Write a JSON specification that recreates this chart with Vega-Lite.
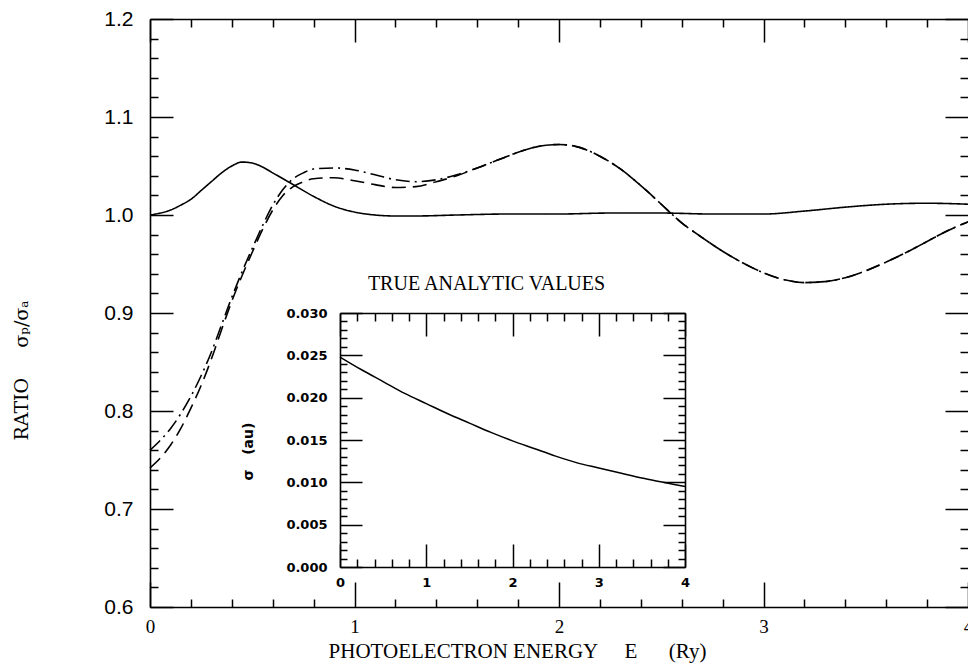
{
  "$schema": "https://vega.github.io/schema/vega-lite/v6.json",
  "width": 818,
  "height": 588,
  "autosize": "none",
  "padding": {"left": 150, "top": 19, "right": 0, "bottom": 59},
  "background": "white",
  "config": {
    "view": {"stroke": null},
    "axis": {"grid": false, "domainColor": "black", "tickColor": "black", "domainWidth": 1.6, "tickWidth": 1.5, "labelColor": "black", "titleColor": "black", "labelFlush": false, "labelOverlap": false, "labelBound": false}
  },
  "datasets": {
    "main": [
      {"x": 0, "y": 1.000, "s": "solid"}, {"x": 0.05, "y": 1.002, "s": "solid"}, {"x": 0.1, "y": 1.005, "s": "solid"}, {"x": 0.15, "y": 1.010, "s": "solid"}, {"x": 0.2, "y": 1.016, "s": "solid"}, {"x": 0.25, "y": 1.025, "s": "solid"}, {"x": 0.3, "y": 1.034, "s": "solid"}, {"x": 0.35, "y": 1.043, "s": "solid"}, {"x": 0.4, "y": 1.050, "s": "solid"}, {"x": 0.45, "y": 1.054, "s": "solid"}, {"x": 0.5, "y": 1.053, "s": "solid"}, {"x": 0.55, "y": 1.049, "s": "solid"}, {"x": 0.6, "y": 1.043, "s": "solid"}, {"x": 0.7, "y": 1.031, "s": "solid"}, {"x": 0.8, "y": 1.019, "s": "solid"}, {"x": 0.9, "y": 1.009, "s": "solid"}, {"x": 1.0, "y": 1.003, "s": "solid"}, {"x": 1.1, "y": 1.000, "s": "solid"}, {"x": 1.2, "y": 0.999, "s": "solid"}, {"x": 1.3, "y": 0.999, "s": "solid"}, {"x": 1.5, "y": 1.000, "s": "solid"}, {"x": 1.75, "y": 1.001, "s": "solid"}, {"x": 2.0, "y": 1.001, "s": "solid"}, {"x": 2.25, "y": 1.002, "s": "solid"}, {"x": 2.5, "y": 1.002, "s": "solid"}, {"x": 2.75, "y": 1.001, "s": "solid"}, {"x": 3.0, "y": 1.001, "s": "solid"}, {"x": 3.2, "y": 1.004, "s": "solid"}, {"x": 3.4, "y": 1.008, "s": "solid"}, {"x": 3.6, "y": 1.011, "s": "solid"}, {"x": 3.8, "y": 1.012, "s": "solid"}, {"x": 4.0, "y": 1.011, "s": "solid"},
      {"x": 0, "y": 0.742, "s": "dash"}, {"x": 0.05, "y": 0.752, "s": "dash"}, {"x": 0.1, "y": 0.765, "s": "dash"}, {"x": 0.15, "y": 0.782, "s": "dash"}, {"x": 0.2, "y": 0.803, "s": "dash"}, {"x": 0.25, "y": 0.826, "s": "dash"}, {"x": 0.3, "y": 0.853, "s": "dash"}, {"x": 0.35, "y": 0.883, "s": "dash"}, {"x": 0.4, "y": 0.912, "s": "dash"}, {"x": 0.45, "y": 0.938, "s": "dash"}, {"x": 0.5, "y": 0.962, "s": "dash"}, {"x": 0.55, "y": 0.985, "s": "dash"}, {"x": 0.6, "y": 1.005, "s": "dash"}, {"x": 0.65, "y": 1.020, "s": "dash"}, {"x": 0.7, "y": 1.029, "s": "dash"}, {"x": 0.75, "y": 1.034, "s": "dash"}, {"x": 0.8, "y": 1.037, "s": "dash"}, {"x": 0.9, "y": 1.038, "s": "dash"}, {"x": 1.0, "y": 1.035, "s": "dash"}, {"x": 1.1, "y": 1.031, "s": "dash"}, {"x": 1.2, "y": 1.028, "s": "dash"}, {"x": 1.3, "y": 1.029, "s": "dash"}, {"x": 1.4, "y": 1.034, "s": "dash"}, {"x": 1.5, "y": 1.040, "s": "dash"}, {"x": 1.6, "y": 1.048, "s": "dash"}, {"x": 1.7, "y": 1.056, "s": "dash"}, {"x": 1.8, "y": 1.064, "s": "dash"}, {"x": 1.9, "y": 1.070, "s": "dash"}, {"x": 2.0, "y": 1.072, "s": "dash"}, {"x": 2.1, "y": 1.069, "s": "dash"}, {"x": 2.2, "y": 1.060, "s": "dash"}, {"x": 2.3, "y": 1.047, "s": "dash"}, {"x": 2.4, "y": 1.030, "s": "dash"}, {"x": 2.5, "y": 1.011, "s": "dash"}, {"x": 2.6, "y": 0.992, "s": "dash"}, {"x": 2.7, "y": 0.977, "s": "dash"}, {"x": 2.8, "y": 0.963, "s": "dash"}, {"x": 2.9, "y": 0.951, "s": "dash"}, {"x": 3.0, "y": 0.941, "s": "dash"}, {"x": 3.1, "y": 0.934, "s": "dash"}, {"x": 3.2, "y": 0.931, "s": "dash"}, {"x": 3.3, "y": 0.932, "s": "dash"}, {"x": 3.4, "y": 0.936, "s": "dash"}, {"x": 3.5, "y": 0.943, "s": "dash"}, {"x": 3.6, "y": 0.952, "s": "dash"}, {"x": 3.7, "y": 0.962, "s": "dash"}, {"x": 3.8, "y": 0.973, "s": "dash"}, {"x": 3.9, "y": 0.984, "s": "dash"}, {"x": 4.0, "y": 0.993, "s": "dash"},
      {"x": 0, "y": 0.760, "s": "dashdot"}, {"x": 0.05, "y": 0.770, "s": "dashdot"}, {"x": 0.1, "y": 0.782, "s": "dashdot"}, {"x": 0.15, "y": 0.797, "s": "dashdot"}, {"x": 0.2, "y": 0.815, "s": "dashdot"}, {"x": 0.25, "y": 0.836, "s": "dashdot"}, {"x": 0.3, "y": 0.860, "s": "dashdot"}, {"x": 0.35, "y": 0.888, "s": "dashdot"}, {"x": 0.4, "y": 0.916, "s": "dashdot"}, {"x": 0.45, "y": 0.942, "s": "dashdot"}, {"x": 0.5, "y": 0.966, "s": "dashdot"}, {"x": 0.55, "y": 0.989, "s": "dashdot"}, {"x": 0.6, "y": 1.010, "s": "dashdot"}, {"x": 0.65, "y": 1.026, "s": "dashdot"}, {"x": 0.7, "y": 1.037, "s": "dashdot"}, {"x": 0.75, "y": 1.043, "s": "dashdot"}, {"x": 0.8, "y": 1.047, "s": "dashdot"}, {"x": 0.9, "y": 1.048, "s": "dashdot"}, {"x": 1.0, "y": 1.046, "s": "dashdot"}, {"x": 1.1, "y": 1.041, "s": "dashdot"}, {"x": 1.2, "y": 1.036, "s": "dashdot"}, {"x": 1.3, "y": 1.034, "s": "dashdot"}, {"x": 1.4, "y": 1.036, "s": "dashdot"}, {"x": 1.5, "y": 1.041, "s": "dashdot"}, {"x": 1.6, "y": 1.048, "s": "dashdot"}, {"x": 1.7, "y": 1.056, "s": "dashdot"}, {"x": 1.8, "y": 1.064, "s": "dashdot"}, {"x": 1.9, "y": 1.070, "s": "dashdot"}, {"x": 2.0, "y": 1.072, "s": "dashdot"}, {"x": 2.1, "y": 1.069, "s": "dashdot"}, {"x": 2.2, "y": 1.060, "s": "dashdot"}, {"x": 2.3, "y": 1.047, "s": "dashdot"}, {"x": 2.4, "y": 1.030, "s": "dashdot"}, {"x": 2.5, "y": 1.011, "s": "dashdot"}, {"x": 2.6, "y": 0.992, "s": "dashdot"}, {"x": 2.7, "y": 0.977, "s": "dashdot"}, {"x": 2.8, "y": 0.963, "s": "dashdot"}, {"x": 2.9, "y": 0.951, "s": "dashdot"}, {"x": 3.0, "y": 0.941, "s": "dashdot"}, {"x": 3.1, "y": 0.934, "s": "dashdot"}, {"x": 3.2, "y": 0.931, "s": "dashdot"}, {"x": 3.3, "y": 0.932, "s": "dashdot"}, {"x": 3.4, "y": 0.936, "s": "dashdot"}, {"x": 3.5, "y": 0.943, "s": "dashdot"}, {"x": 3.6, "y": 0.952, "s": "dashdot"}, {"x": 3.7, "y": 0.962, "s": "dashdot"}, {"x": 3.8, "y": 0.973, "s": "dashdot"}, {"x": 3.9, "y": 0.984, "s": "dashdot"}, {"x": 4.0, "y": 0.993, "s": "dashdot"}
    ],
    "inset": [
      {"x": 0, "y": 0.0248}, {"x": 0.25, "y": 0.0233}, {"x": 0.5, "y": 0.0219}, {"x": 0.75, "y": 0.0205}, {"x": 1.0, "y": 0.0193}, {"x": 1.25, "y": 0.0181}, {"x": 1.5, "y": 0.0170}, {"x": 1.75, "y": 0.0159}, {"x": 2.0, "y": 0.0149}, {"x": 2.25, "y": 0.0140}, {"x": 2.5, "y": 0.0131}, {"x": 2.75, "y": 0.0123}, {"x": 3.0, "y": 0.0117}, {"x": 3.25, "y": 0.0111}, {"x": 3.5, "y": 0.0105}, {"x": 3.75, "y": 0.0100}, {"x": 4.0, "y": 0.0095}
    ]
  },
  "resolve": {"scale": {"x": "independent", "y": "independent"}},
  "layer": [
    {
      "data": {"name": "main"},
      "mark": {"type": "line", "stroke": "black", "strokeWidth": 1.6, "interpolate": "monotone"},
      "encoding": {
        "x": {"field": "x", "type": "quantitative", "scale": {"domain": [0, 4], "nice": false, "zero": false},
          "axis": {"orient": "bottom", "values": [0, 1, 2, 3, 4], "tickSize": -25, "labelPadding": 35, "format": "d", "labelFont": "Liberation Serif", "labelFontSize": 19,
            "title": "PHOTOELECTRON ENERGY\u00a0\u00a0\u00a0\u00a0\u00a0E\u00a0\u00a0\u00a0\u00a0\u00a0\u00a0(Ry)", "titleX": 367, "titleY": 44, "titleBaseline": "middle", "titleAlign": "center", "titleFont": "Liberation Serif", "titleFontSize": 21, "titleFontWeight": "normal"}},
        "y": {"field": "y", "type": "quantitative", "scale": {"domain": [0.6, 1.2], "nice": false, "zero": false},
          "axis": {"orient": "left", "values": [0.6, 0.7, 0.8, 0.9, 1.0, 1.1, 1.2], "tickSize": -23, "labelPadding": 40, "format": ".1f", "labelFont": "Liberation Sans", "labelFontSize": 21,
            "title": "RATIO\u00a0\u00a0\u00a0\u00a0\u00a0σₚ/σₐ", "titleX": -129, "titleY": 351, "titleAngle": -90, "titleBaseline": "middle", "titleAlign": "center", "titleFont": "DejaVu Serif", "titleFontSize": 19, "titleFontWeight": "normal"}},
        "strokeDash": {"field": "s", "type": "nominal", "scale": {"domain": ["solid", "dash", "dashdot"], "range": [[1, 0], [14, 7], [14, 5, 2, 5]]}, "legend": null}
      }
    },
    {
      "data": {"name": "main"},
      "mark": {"type": "line", "opacity": 0},
      "encoding": {
        "x": {"field": "x", "type": "quantitative", "scale": {"domain": [0, 4], "nice": false, "zero": false},
          "axis": {"orient": "bottom", "values": [0.2, 0.4, 0.6, 0.8, 1.2, 1.4, 1.6, 1.8, 2.2, 2.4, 2.6, 2.8, 3.2, 3.4, 3.6, 3.8], "tickSize": -8, "labels": false, "domain": false, "title": null}},
        "y": {"field": "y", "type": "quantitative", "scale": {"domain": [0.6, 1.2], "nice": false, "zero": false},
          "axis": {"orient": "left", "values": [0.62, 0.64, 0.66, 0.68, 0.72, 0.74, 0.76, 0.78, 0.82, 0.84, 0.86, 0.88, 0.92, 0.94, 0.96, 0.98, 1.02, 1.04, 1.06, 1.08, 1.12, 1.14, 1.16, 1.18], "tickSize": -8, "labels": false, "domain": false, "title": null}},
        "detail": {"field": "s"}
      }
    },
    {
      "data": {"name": "main"},
      "mark": {"type": "line", "opacity": 0},
      "encoding": {
        "x": {"field": "x", "type": "quantitative", "scale": {"domain": [0, 4], "nice": false, "zero": false},
          "axis": {"orient": "top", "values": [0, 1, 2, 3, 4], "tickSize": -23, "labels": false, "domain": true, "title": null}},
        "y": {"field": "y", "type": "quantitative", "scale": {"domain": [0.6, 1.2], "nice": false, "zero": false},
          "axis": {"orient": "right", "values": [0.6, 0.7, 0.8, 0.9, 1.0, 1.1, 1.2], "tickSize": -23, "labels": false, "domain": false, "title": null}},
        "detail": {"field": "s"}
      }
    },
    {
      "data": {"name": "main"},
      "mark": {"type": "line", "opacity": 0},
      "encoding": {
        "x": {"field": "x", "type": "quantitative", "scale": {"domain": [0, 4], "nice": false, "zero": false},
          "axis": {"orient": "top", "values": [0.2, 0.4, 0.6, 0.8, 1.2, 1.4, 1.6, 1.8, 2.2, 2.4, 2.6, 2.8, 3.2, 3.4, 3.6, 3.8], "tickSize": -8, "labels": false, "domain": false, "title": null}},
        "y": {"field": "y", "type": "quantitative", "scale": {"domain": [0.6, 1.2], "nice": false, "zero": false},
          "axis": {"orient": "right", "values": [0.62, 0.64, 0.66, 0.68, 0.72, 0.74, 0.76, 0.78, 0.82, 0.84, 0.86, 0.88, 0.92, 0.94, 0.96, 0.98, 1.02, 1.04, 1.06, 1.08, 1.12, 1.14, 1.16, 1.18], "tickSize": -8, "labels": false, "domain": false, "title": null}},
        "detail": {"field": "s"}
      }
    },
    {
      "data": {"name": "inset"},
      "mark": {"type": "line", "stroke": "black", "strokeWidth": 1.5, "interpolate": "monotone"},
      "encoding": {
        "x": {"field": "x", "type": "quantitative", "scale": {"domain": [0, 4], "nice": false, "zero": false, "range": [190, 535]},
          "axis": {"orient": "bottom", "offset": -40, "values": [0, 1, 2, 3, 4], "tickSize": -23, "labelPadding": 32, "format": "d", "labelFont": "DejaVu Sans", "labelFontWeight": "bold", "labelFontSize": 13, "title": null}},
        "y": {"field": "y", "type": "quantitative", "scale": {"domain": [0, 0.03], "nice": false, "zero": false, "range": [548, 294]},
          "axis": {"orient": "left", "offset": -190, "values": [0, 0.005, 0.01, 0.015, 0.02, 0.025, 0.03], "tickSize": -22, "labelPadding": 35, "format": ".3f", "labelFont": "DejaVu Sans", "labelFontWeight": "bold", "labelFontSize": 13,
            "title": "σ\u00a0\u00a0\u00a0(au)", "titleX": -92, "titleY": 432, "titleAngle": -90, "titleBaseline": "middle", "titleAlign": "center", "titleFont": "DejaVu Sans", "titleFontSize": 14, "titleFontWeight": "bold"}}
      }
    },
    {
      "data": {"name": "inset"},
      "mark": {"type": "line", "opacity": 0},
      "encoding": {
        "x": {"field": "x", "type": "quantitative", "scale": {"domain": [0, 4], "nice": false, "zero": false, "range": [190, 535]},
          "axis": {"orient": "bottom", "offset": -40, "values": [0.2, 0.4, 0.6, 0.8, 1.2, 1.4, 1.6, 1.8, 2.2, 2.4, 2.6, 2.8, 3.2, 3.4, 3.6, 3.8], "tickSize": -8, "labels": false, "domain": false, "title": null}},
        "y": {"field": "y", "type": "quantitative", "scale": {"domain": [0, 0.03], "nice": false, "zero": false, "range": [548, 294]},
          "axis": {"orient": "left", "offset": -190, "values": [0.001, 0.002, 0.003, 0.004, 0.006, 0.007, 0.008, 0.009, 0.011, 0.012, 0.013, 0.014, 0.016, 0.017, 0.018, 0.019, 0.021, 0.022, 0.023, 0.024, 0.026, 0.027, 0.028, 0.029], "tickSize": -7, "labels": false, "domain": false, "title": null}}
      }
    },
    {
      "data": {"name": "inset"},
      "mark": {"type": "line", "opacity": 0},
      "encoding": {
        "x": {"field": "x", "type": "quantitative", "scale": {"domain": [0, 4], "nice": false, "zero": false, "range": [190, 535]},
          "axis": {"orient": "top", "offset": -294, "values": [0, 1, 2, 3, 4], "tickSize": -23, "labels": false, "domain": true,
            "title": "TRUE ANALYTIC VALUES", "titleX": 336, "titleY": -30, "titleBaseline": "middle", "titleAlign": "center", "titleFont": "Liberation Serif", "titleFontSize": 20, "titleFontWeight": "normal"}},
        "y": {"field": "y", "type": "quantitative", "scale": {"domain": [0, 0.03], "nice": false, "zero": false, "range": [548, 294]},
          "axis": {"orient": "right", "offset": -283, "values": [0, 0.005, 0.01, 0.015, 0.02, 0.025, 0.03], "tickSize": -22, "labels": false, "domain": true, "title": null}}
      }
    },
    {
      "data": {"name": "inset"},
      "mark": {"type": "line", "opacity": 0},
      "encoding": {
        "x": {"field": "x", "type": "quantitative", "scale": {"domain": [0, 4], "nice": false, "zero": false, "range": [190, 535]},
          "axis": {"orient": "top", "offset": -294, "values": [0.2, 0.4, 0.6, 0.8, 1.2, 1.4, 1.6, 1.8, 2.2, 2.4, 2.6, 2.8, 3.2, 3.4, 3.6, 3.8], "tickSize": -8, "labels": false, "domain": false, "title": null}},
        "y": {"field": "y", "type": "quantitative", "scale": {"domain": [0, 0.03], "nice": false, "zero": false, "range": [548, 294]},
          "axis": {"orient": "right", "offset": -283, "values": [0.001, 0.002, 0.003, 0.004, 0.006, 0.007, 0.008, 0.009, 0.011, 0.012, 0.013, 0.014, 0.016, 0.017, 0.018, 0.019, 0.021, 0.022, 0.023, 0.024, 0.026, 0.027, 0.028, 0.029], "tickSize": -7, "labels": false, "domain": false, "title": null}}
      }
    }
  ]
}
